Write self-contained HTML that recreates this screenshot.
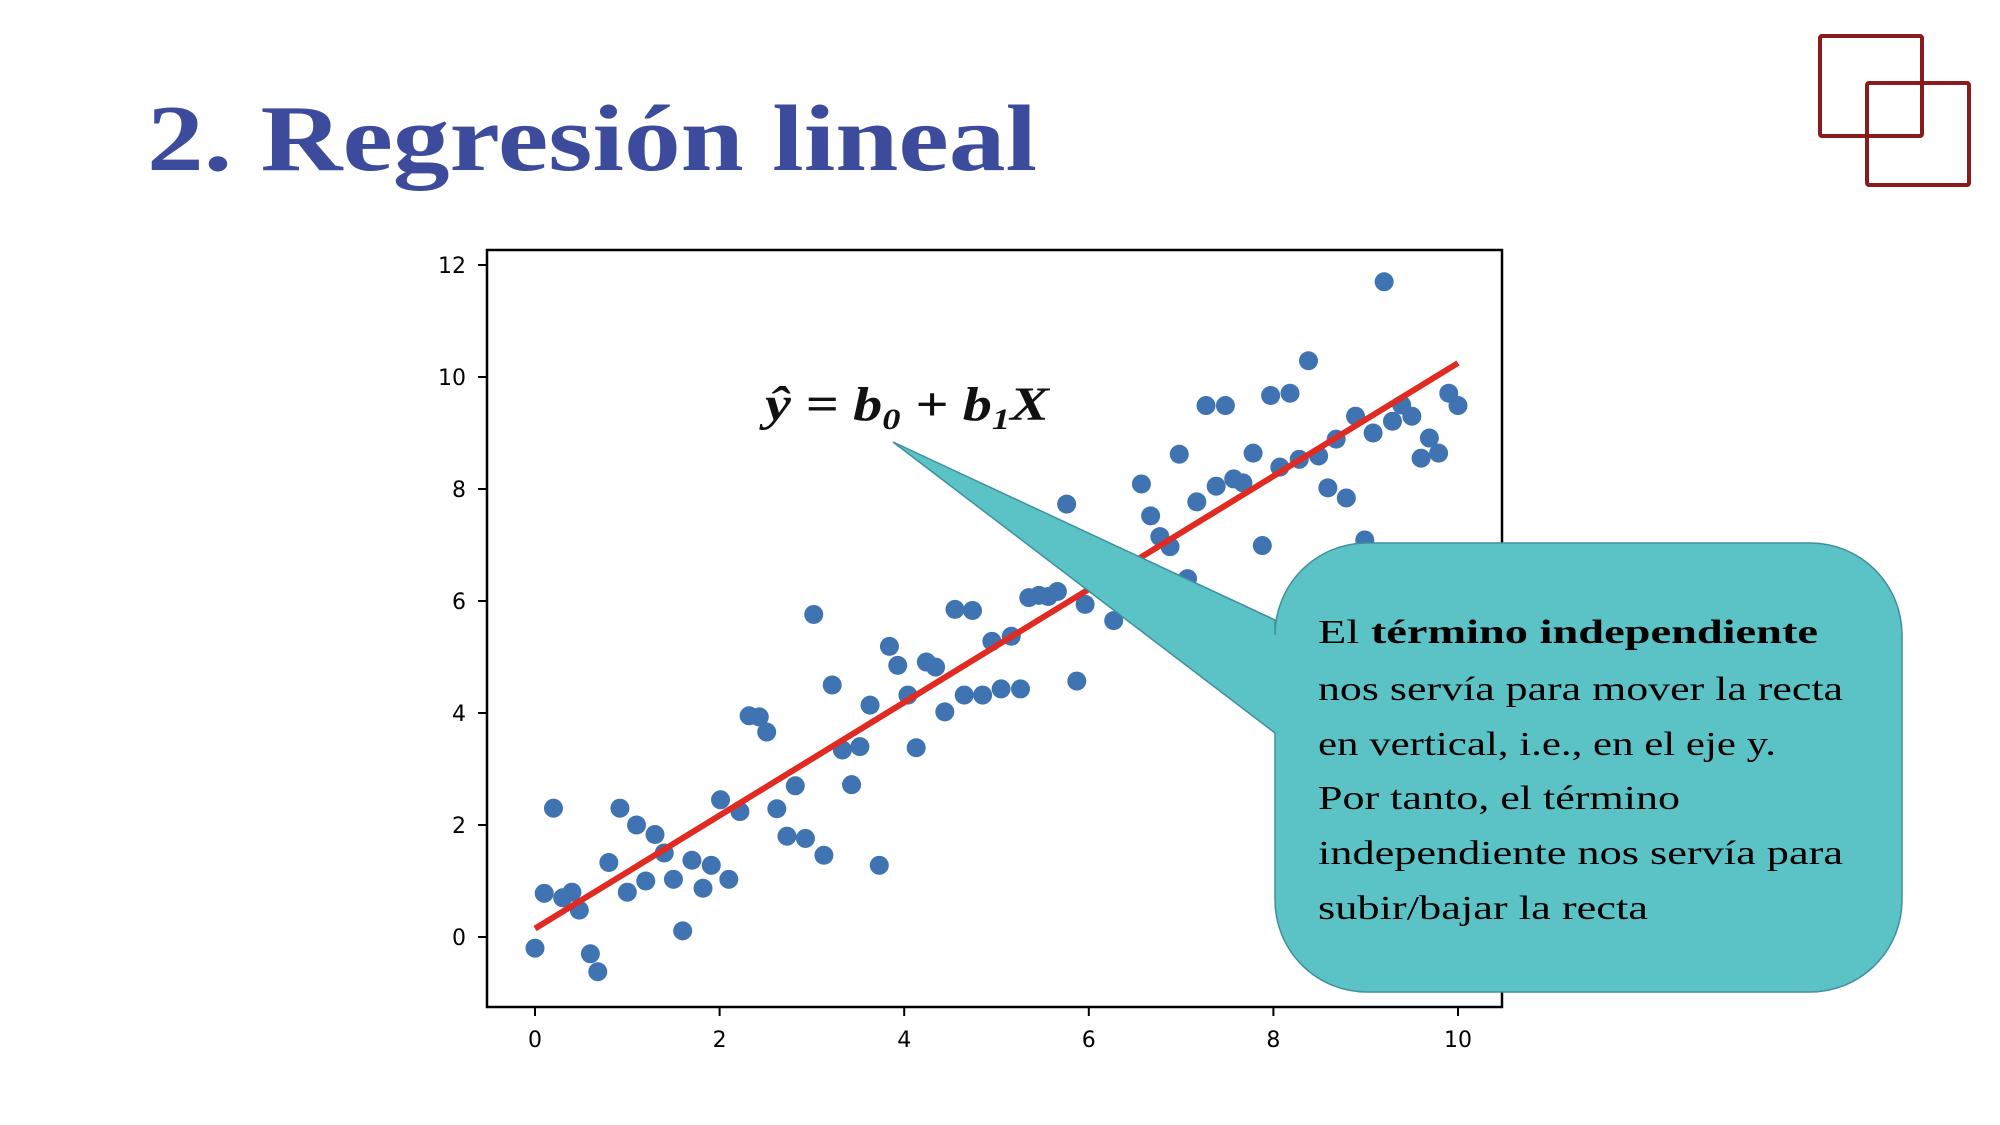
<!DOCTYPE html>
<html><head><meta charset="utf-8">
<style>
body{margin:0;width:2000px;height:1125px;background:#fff;overflow:hidden;position:relative}
svg{position:absolute;left:0;top:0}
</style></head>
<body>
<svg id="s" width="2000" height="1125">
  <text x="147" y="170" textLength="890" lengthAdjust="spacingAndGlyphs" font-family="Liberation Serif, serif" font-weight="bold" font-size="94" fill="#3d4b9c">2. Regresión lineal</text>
  <g fill="none" stroke="#8b1a1a" stroke-width="4">
    <rect x="1820" y="36" width="102" height="100" rx="2"/>
    <rect x="1867" y="83" width="102" height="102" rx="2"/>
  </g>
  <rect x="487" y="250" width="1015" height="757" fill="#fff" stroke="#000" stroke-width="2.5"/>
  <g id="ticks"></g>
  <g id="pts"></g>
  <line id="fit" stroke="#e02a22" stroke-width="6"/>
  <text x="765" y="420" textLength="284" lengthAdjust="spacingAndGlyphs" font-family="Liberation Serif, serif" font-weight="bold" font-style="italic" font-size="48" fill="#111">ŷ = b<tspan font-size="30" dy="9">0</tspan><tspan dy="-9"> + b</tspan><tspan font-size="30" dy="9">1</tspan><tspan dy="-9">X</tspan></text>
  <path d="M1365,543 H1810 A92,92 0 0 1 1902,635 V900 A92,92 0 0 1 1810,992 H1367 A92,92 0 0 1 1275,900 V733 L893,442 L1275,620 V635 A92,92 0 0 1 1365,543 Z" fill="#5bc3c6" stroke="#3f8f9f" stroke-width="1.5"/>
  <g font-family="Liberation Serif, serif" font-size="34" fill="#000">
    <text x="1318" y="643" textLength="500" lengthAdjust="spacingAndGlyphs">El <tspan font-weight="bold">término independiente</tspan></text>
    <text x="1318" y="700" textLength="525" lengthAdjust="spacingAndGlyphs">nos servía para mover la recta</text>
    <text x="1318" y="755" textLength="458" lengthAdjust="spacingAndGlyphs">en vertical, i.e., en el eje y.</text>
    <text x="1318" y="809" textLength="362" lengthAdjust="spacingAndGlyphs">Por tanto, el término</text>
    <text x="1318" y="864" textLength="525" lengthAdjust="spacingAndGlyphs">independiente nos servía para</text>
    <text x="1318" y="919" textLength="330" lengthAdjust="spacingAndGlyphs">subir/bajar la recta</text>
  </g>
</svg>
<script>
const xs=[0,0.1,0.2,0.3,0.4,0.48,0.6,0.68,0.8,0.92,1.0,1.1,1.2,1.3,1.4,1.5,1.6,1.7,1.82,1.91,2.01,2.1,2.22,2.32,2.43,2.51,2.62,2.73,2.82,2.93,3.02,3.13,3.22,3.33,3.43,3.52,3.63,3.73,3.84,3.93,4.04,4.13,4.24,4.34,4.44,4.55,4.65,4.74,4.85,4.95,5.05,5.16,5.26,5.35,5.46,5.56,5.66,5.76,5.87,5.96,6.27,6.57,6.67,6.77,6.88,6.98,7.07,7.17,7.27,7.38,7.48,7.57,7.67,7.78,7.88,7.97,8.07,8.18,8.28,8.38,8.49,8.59,8.68,8.79,8.89,8.99,9.08,9.2,9.29,9.39,9.5,9.6,9.69,9.79,9.9,10];
const ys=[-0.2,0.78,2.3,0.7,0.8,0.48,-0.3,-0.62,1.33,2.3,0.8,2.0,1.0,1.83,1.5,1.03,0.11,1.37,0.87,1.28,2.45,1.03,2.24,3.95,3.93,3.66,2.29,1.8,2.7,1.76,5.76,1.46,4.5,3.34,2.72,3.4,4.14,1.28,5.19,4.85,4.32,3.38,4.91,4.82,4.02,5.85,4.32,5.83,4.32,5.28,4.43,5.37,4.43,6.06,6.1,6.08,6.17,7.73,4.57,5.94,5.65,8.09,7.52,7.15,6.97,8.62,6.4,7.77,9.49,8.05,9.49,8.18,8.11,8.64,6.99,9.67,8.39,9.71,8.53,10.29,8.59,8.02,8.89,7.84,9.3,7.09,9.0,11.7,9.21,9.5,9.3,8.55,8.91,8.64,9.71,9.49];
const lineX=[0,10];
const lineY=[0.15,10.25];
const xTicks=[0,2,4,6,8,10];
const yTicks=[0,2,4,6,8,10,12];
const NS='http://www.w3.org/2000/svg';
function sx(v){return 535+v*92.3;}
function sy(v){return 937-v*56;}
const tg=document.getElementById('ticks');
xTicks.forEach(t=>{
  const l=document.createElementNS(NS,'line');
  
  
  l.setAttribute('x1',sx(t));l.setAttribute('x2',sx(t));l.setAttribute('y1',1008);l.setAttribute('y2',1016);l.setAttribute('stroke','#000');l.setAttribute('stroke-width','2');
  tg.appendChild(l);
  const tx=document.createElementNS(NS,'text');
  
  
  tx.setAttribute('x',sx(t));tx.setAttribute('y',1047);tx.setAttribute('text-anchor','middle');tx.setAttribute('font-family','DejaVu Sans, sans-serif');tx.setAttribute('font-size','22');
  tx.textContent=t;tg.appendChild(tx);
});
yTicks.forEach(t=>{
  const l=document.createElementNS(NS,'line');
  
  
  l.setAttribute('x1',478);l.setAttribute('x2',487);l.setAttribute('y1',sy(t));l.setAttribute('y2',sy(t));l.setAttribute('stroke','#000');l.setAttribute('stroke-width','2');
  tg.appendChild(l);
  const tx=document.createElementNS(NS,'text');
  
  
  tx.setAttribute('x',466);tx.setAttribute('y',sy(t)+8);tx.setAttribute('text-anchor','end');tx.setAttribute('font-family','DejaVu Sans, sans-serif');tx.setAttribute('font-size','22');
  tx.textContent=t;tg.appendChild(tx);
});
const pg=document.getElementById('pts');
xs.forEach((x,i)=>{
  const c=document.createElementNS(NS,'circle');
  
  
  c.setAttribute('cx',sx(x));c.setAttribute('cy',sy(ys[i]));c.setAttribute('r',9.5);c.setAttribute('fill','#3f73b2');
  pg.appendChild(c);
});
const f=document.getElementById('fit');
f.setAttribute('x1',sx(lineX[0]));f.setAttribute('y1',sy(lineY[0]));
f.setAttribute('x2',sx(lineX[1]));f.setAttribute('y2',sy(lineY[1]));
</script>
</body></html>
